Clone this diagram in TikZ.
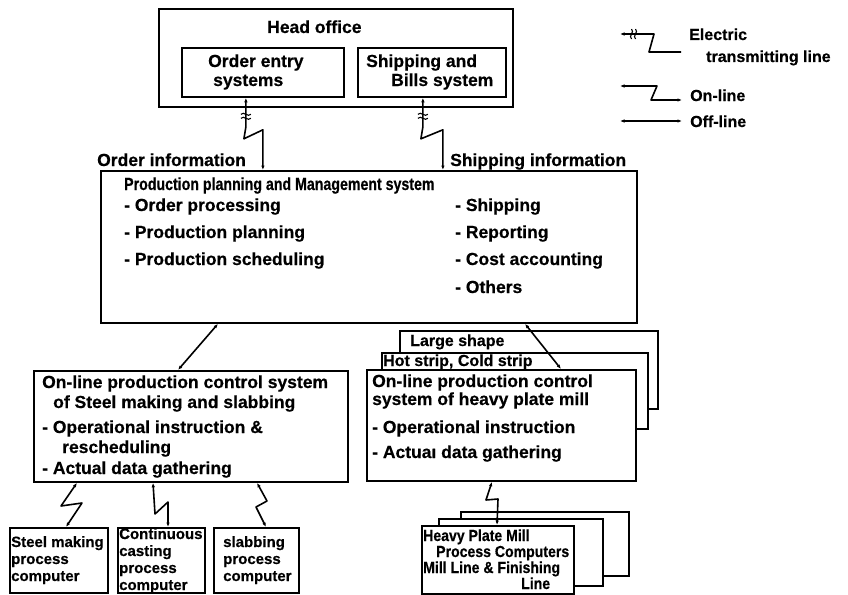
\documentclass[tikz,border=0pt]{standalone}
\usepackage{fontspec}
\setmainfont{Liberation Sans}[BoldFeatures={FakeBold=0.5}]
\newfontfamily\narrowsf{Liberation Sans}[FakeStretch=0.81, BoldFeatures={FakeBold=0.5}]
\newfontfamily\slimsf{Liberation Sans}[FakeStretch=0.88, BoldFeatures={FakeBold=0.5}]
\usetikzlibrary{arrows.meta,calc}
\begin{document}
\begin{tikzpicture}[x=1pt,y=-1pt,
  every node/.style={inner sep=0pt},
  frame/.style={draw, line width=1.8pt, fill=white, anchor=north west},
  lab/.style={anchor=base west, font=\bfseries\fontsize{17.5}{20}\selectfont},
  labm/.style={anchor=base west, font=\bfseries\fontsize{16}{19}\selectfont},
  labs/.style={anchor=base west, font=\bfseries\fontsize{15}{18}\selectfont},
  labn/.style={anchor=base west, font=\narrowsf\bfseries\fontsize{17.5}{20}\selectfont},
  labp/.style={anchor=base west, font=\slimsf\bfseries\fontsize{16}{18}\selectfont},
  wire/.style={line width=1.6pt, line join=round},
  tips/.style={wire, {Latex[length=4.5pt,width=3.5pt]}-{Latex[length=4.5pt,width=3.5pt]}},
  squig/.pic={
    \draw[line width=1.1pt] (-5,-1.5) .. controls (-2,-5) and (2,2) .. (5,-1.5);
    \draw[line width=1.1pt] (-5,2.5) .. controls (-2,-1) and (2,6) .. (5,2.5);
  }
]
\useasboundingbox (0,0) rectangle (848,594);
\fill[white] (0,0) rectangle (848,594);

% ---------- head office ----------
\node[frame, minimum width=354pt, minimum height=98pt] (head) at (158,8) {};
\node[lab] (headt) at (267,33) {Head office};
\node[frame, minimum width=162pt, minimum height=49pt] (oe) at (181,47) {};
\node[lab] (oet1) at (208,67) {Order entry};
\node[lab] (oet2) at (213,86) {systems};
\node[frame, minimum width=148pt, minimum height=49pt] (sb) at (357,47) {};
\node[lab] (sbt1) at (366,67) {Shipping and};
\node[lab] (sbt2) at (391,86) {Bills system};

% ---------- production planning and management ----------
\node[frame, minimum width=536pt, minimum height=152pt] (ppm) at (100,170) {};
\node[lab] (oinf) at (97,166) {Order information};
\node[lab] (sinf) at (450,166) {Shipping information};
\node[labn] (ppmt) at (124,190) {Production planning and Management system};
\node[lab] (i1) at (124,211) {- Order processing};
\node[lab] (i2) at (124,238) {- Production planning};
\node[lab] (i3) at (124,265) {- Production scheduling};
\node[lab] (j1) at (455,211) {- Shipping};
\node[lab] (j2) at (455,238) {- Reporting};
\node[lab] (j3) at (455,265) {- Cost accounting};
\node[lab] (j4) at (455,293) {- Others};

% ---------- on-line control, steel making and slabbing ----------
\node[frame, minimum width=314pt, minimum height=111pt] (lc) at (33,370) {};
\node[lab] (lc1) at (42,388) {On-line production control system};
\node[lab] (lc2) at (53,408) {of Steel making and slabbing};
\node[lab] (lc3) at (42,433) {- Operational instruction \&};
\node[lab] (lc4) at (62,453) {rescheduling};
\node[lab] (lc5) at (42,474) {- Actual data gathering};

% ---------- on-line control, rolling mills (stacked) ----------
\node[frame, minimum width=258pt, minimum height=78pt] (ls) at (399,330) {};
\node[labm] (lst) at (410,346) {Large shape};
\node[frame, minimum width=266pt, minimum height=76pt] (hc) at (381,352) {};
\node[labm] (hct) at (383,366) {Hot strip, Cold strip};
\node[frame, minimum width=269pt, minimum height=111pt] (rc) at (366,369) {};
\node[lab] (rc1) at (372,387) {On-line production control};
\node[lab] (rc2) at (372,405) {system of heavy plate mill};
\node[lab] (rc3) at (372,433) {- Operational instruction};
\node[lab] (rc4) at (372,458) {- Actuaı data gathering};

% ---------- process computers ----------
\node[frame, minimum width=98pt, minimum height=65pt] (smc) at (9,527) {};
\node[labs] (smc1) at (11,547) {Steel making};
\node[labs] (smc2) at (11,564) {process};
\node[labs] (smc3) at (11,581) {computer};
\node[frame, minimum width=87pt, minimum height=65pt] (ccp) at (117,527) {};
\node[labs] (ccp1) at (119,539) {Continuous};
\node[labs] (ccp2) at (119,556) {casting};
\node[labs] (ccp3) at (119,573) {process};
\node[labs] (ccp4) at (119,590) {computer};
\node[frame, minimum width=85pt, minimum height=65pt] (slp) at (213,527) {};
\node[labs] (slp1) at (223,547) {slabbing};
\node[labs] (slp2) at (223,564) {process};
\node[labs] (slp3) at (223,581) {computer};

\node[frame, minimum width=168pt, minimum height=64pt] (bk) at (460,511) {};
\node[frame, minimum width=164pt, minimum height=67pt] (md) at (438,518) {};
\node[frame, minimum width=152pt, minimum height=68pt] (hp) at (421,525) {};
\node[labp] (hp1) at (423,541) {Heavy Plate Mill};
\node[labp] (hp2) at (436,557) {Process Computers};
\node[labp] (hp3) at (423,573) {Mill Line \& Finishing};
\node[labp] (hp4) at (521,589) {Line};

% ---------- links ----------
\draw[tips] ($(oe.south)+(-17,0)$) -- ++(0,29) -- ++(-2,12) -- ++(19,-9) coordinate (oa) -- (oa |- ppm.north);
\pic at ($(oe.south)+(-17,18)$) {squig};
\draw[tips] ($(sb.south)+(-9,0)$) -- ++(0,29) -- ++(-2,12) -- ++(22,-9) coordinate (sa) -- (sa |- ppm.north);
\pic at ($(sb.south)+(-9,18)$) {squig};

\draw[tips] (218,0 |- ppm.south) -- (178,0 |- lc.north);
\draw[tips] (525,0 |- ppm.south) -- (561,0 |- rc.north);

\draw[tips] (77,0 |- lc.south) -- (61,506) -- (82,503) -- (66,0 |- smc.north);
\draw[tips] (153,0 |- lc.south) -- (155,514) -- (168,502) -- (168,0 |- ccp.north);
\draw[tips] (257,0 |- lc.south) -- (267,501) -- (256,507) -- (266,0 |- slp.north);
\draw[tips] (492,0 |- rc.south) -- (486,500) -- (498,499) -- (497,0 |- hp.north);

% ---------- legend ----------
\coordinate (e1) at (620,34);
\coordinate (e2) at (681,52);
\draw[wire, {Latex[length=4.5pt,width=3.5pt]}-] (e1) -- ++(34,0) -- ++(-5,18) -- (e2);
\pic[rotate=90] at (633,34) {squig};
\node[labm] (lg1) at (689,40) {Electric};
\node[labm] (lg2) at (706,62) {transmitting line};

\coordinate (n1) at (620,86);
\coordinate (n2) at (682,100);
\draw[tips] (n1) -- ++(37,0) -- ++(-6,14) -- (n2);
\node[labm] (lg3) at (690,101) {On-line};

\coordinate (f1) at (620,121);
\coordinate (f2) at (682,121);
\draw[tips] (f1) -- (f2);
\node[labm] (lg4) at (690,127) {Off-line};
\end{tikzpicture}
\end{document}
